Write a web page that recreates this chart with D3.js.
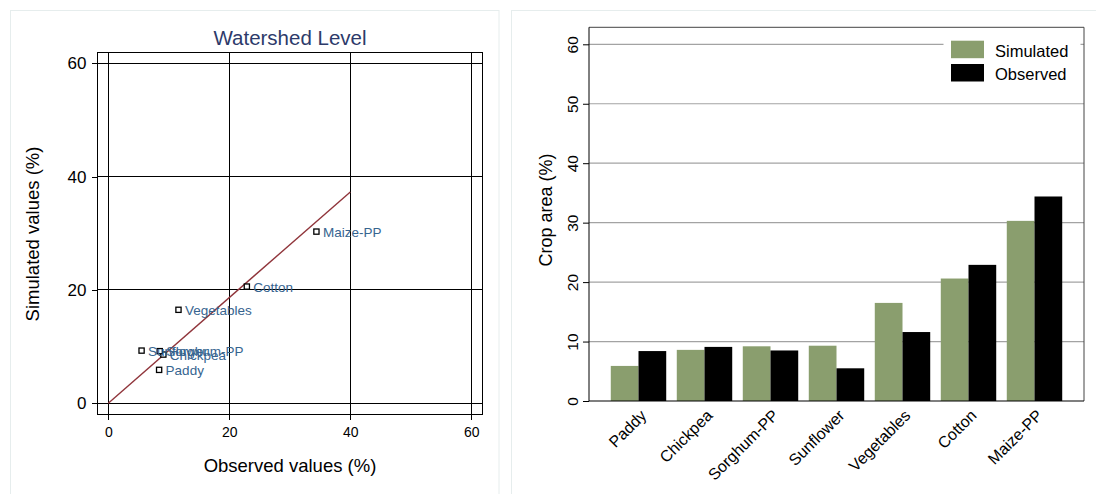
<!DOCTYPE html>
<html>
<head>
<meta charset="utf-8">
<script src="https://cdn.jsdelivr.net/npm/d3@7"></script>
<style>
  html, body { margin: 0; padding: 0; background: #ffffff; }
  svg { display: block; font-family: "Liberation Sans", Arial, Helvetica, sans-serif; }
</style>
</head>
<body>
<svg id="chart" width="1096" height="494"></svg>
<script>
// ---------------- data ----------------
const crops = ["Paddy", "Chickpea", "Sorghum-PP", "Sunflower", "Vegetables", "Cotton", "Maize-PP"];
const simulated = [5.9, 8.6, 9.2, 9.3, 16.5, 20.6, 30.3];
const observed  = [8.4, 9.1, 8.5, 5.5, 11.6, 22.9, 34.4];
const seriesNames = ["Simulated", "Observed"];
const axisTicks = [0, 20, 40, 60];
const barTicks = [0, 10, 20, 30, 40, 50, 60];
const fitLineX = [0, 40];
const fitLineY = [0, 37.3];

// ---------------- styles ----------------
const GREEN = "#8a9e6e";
const BLACK = "#000000";
const TITLE_COLOR = "#2d3a6a";
const LABEL_COLOR = "#36648f";
const LINE_COLOR = "#90353b";
const FRAME = "#e6eded";

const svg = d3.select("#chart");

// panel frames
svg.append("rect").attr("x", 10.5).attr("y", 10.5).attr("width", 488.5).attr("height", 500)
  .attr("fill", "#fff").attr("stroke", FRAME);
svg.append("rect").attr("x", 511.5).attr("y", 10.5).attr("width", 600).attr("height", 500)
  .attr("fill", "#fff").attr("stroke", FRAME);

// ================= LEFT: scatter =================
const L = svg.append("g");
const xL = d3.scaleLinear().domain([0, 60]).range([108.3, 471.3]);
const yL = d3.scaleLinear().domain([0, 60]).range([403.3, 63.3]);
const boxL = { x0: xL(-1.8), x1: xL(61.8), y0: yL(61.9), y1: yL(-1.95) };

// gridlines (black)
L.append("g").selectAll("line.gx").data(axisTicks).join("line")
  .attr("x1", d => xL(d)).attr("x2", d => xL(d))
  .attr("y1", boxL.y0).attr("y2", boxL.y1)
  .attr("stroke", "#000").attr("stroke-width", 1).attr("shape-rendering", "crispEdges");
L.append("g").selectAll("line.gy").data(axisTicks).join("line")
  .attr("y1", d => yL(d)).attr("y2", d => yL(d))
  .attr("x1", boxL.x0).attr("x2", boxL.x1)
  .attr("stroke", "#000").attr("stroke-width", 1).attr("shape-rendering", "crispEdges");

// box
L.append("rect").attr("x", boxL.x0).attr("y", boxL.y0)
  .attr("width", boxL.x1 - boxL.x0).attr("height", boxL.y1 - boxL.y0)
  .attr("fill", "none").attr("stroke", "#000").attr("stroke-width", 1).attr("shape-rendering", "crispEdges");

// axes
const axL = L.append("g").attr("transform", `translate(${boxL.x0},0)`)
  .call(d3.axisLeft(yL).tickValues(axisTicks).tickSize(5).tickPadding(6).tickFormat(d3.format("d")));
axL.select(".domain").remove();
axL.selectAll("line").attr("stroke", "#000").attr("shape-rendering", "crispEdges");
axL.selectAll("text").attr("font-size", 17).attr("fill", "#000").attr("font-family", null);

const axB = L.append("g").attr("transform", `translate(0,${boxL.y1})`)
  .call(d3.axisBottom(xL).tickValues(axisTicks).tickSize(6).tickPadding(7).tickFormat(d3.format("d")));
axB.select(".domain").remove();
axB.selectAll("line").attr("stroke", "#000").attr("shape-rendering", "crispEdges");
axB.selectAll("text").attr("font-size", 14).attr("fill", "#000").attr("font-family", null);

// fit line
L.append("path")
  .datum(fitLineX.map((x, i) => [x, fitLineY[i]]))
  .attr("d", d3.line().x(d => xL(d[0])).y(d => yL(d[1])))
  .attr("fill", "none").attr("stroke", LINE_COLOR).attr("stroke-width", 1.4);

// points
const pts = crops.map((c, i) => ({ name: c, x: observed[i], y: simulated[i] }));
L.append("g").selectAll("rect").data(pts).join("rect")
  .attr("x", d => xL(d.x) - 2.6).attr("y", d => yL(d.y) - 2.6)
  .attr("width", 5.2).attr("height", 5.2)
  .attr("fill", "#fff").attr("stroke", "#000").attr("stroke-width", 1.3);
L.append("g").selectAll("text").data(pts).join("text")
  .attr("x", d => xL(d.x) + 6.5).attr("y", d => yL(d.y) + 5)
  .attr("font-size", 13.5).attr("fill", LABEL_COLOR)
  .text(d => d.name);

// titles
L.append("text").attr("x", 290).attr("y", 45).attr("text-anchor", "middle")
  .attr("font-size", 20.5).attr("fill", TITLE_COLOR).text("Watershed Level");
L.append("text").attr("x", 290).attr("y", 472).attr("text-anchor", "middle")
  .attr("font-size", 18.5).attr("fill", "#000").text("Observed values (%)");
L.append("text").attr("transform", "translate(38.5,234) rotate(-90)").attr("text-anchor", "middle")
  .attr("font-size", 18.5).attr("fill", "#000").text("Simulated values (%)");

// ================= RIGHT: bars =================
const R = svg.append("g");
const boxR = { x0: 589, x1: 1084, y0: 27.3, y1: 401 };
const xR = d3.scaleBand().domain(crops).range([boxR.x0, boxR.x1]).paddingInner(0.16).paddingOuter(0.33);
const xSub = d3.scaleBand().domain(seriesNames).range([0, xR.bandwidth()]).padding(0);
const yR = d3.scaleLinear().domain([0, 60]).range([401, 44.3]);

// gridlines
R.append("g").selectAll("line").data(barTicks.filter(d => d > 0)).join("line")
  .attr("x1", boxR.x0).attr("x2", boxR.x1)
  .attr("y1", d => yR(d)).attr("y2", d => yR(d))
  .attr("stroke", "#a3a3a3").attr("stroke-width", 1.2);

// box top/right
R.append("path")
  .attr("d", `M${boxR.x0},${boxR.y0}H${boxR.x1}V${boxR.y1}`)
  .attr("fill", "none").attr("stroke", "#444").attr("stroke-width", 1);

// bars
const barData = [];
crops.forEach((c, i) => {
  barData.push({ crop: c, s: "Simulated", v: simulated[i] });
  barData.push({ crop: c, s: "Observed", v: observed[i] });
});
R.append("g").selectAll("rect").data(barData).join("rect")
  .attr("x", d => xR(d.crop) + xSub(d.s))
  .attr("width", xSub.bandwidth())
  .attr("y", d => yR(d.v))
  .attr("height", d => yR(0) - yR(d.v))
  .attr("fill", d => d.s === "Simulated" ? GREEN : BLACK);

// y axis
const ayR = R.append("g").attr("transform", `translate(${boxR.x0},0)`)
  .call(d3.axisLeft(yR).tickValues(barTicks).tickSize(6).tickFormat(d3.format("d")));
ayR.select(".domain").attr("stroke", "#000").attr("d", `M0,${boxR.y0}V${boxR.y1}`);
ayR.selectAll("line").attr("stroke", "#000");
ayR.selectAll("text")
  .attr("x", null).attr("dy", null)
  .attr("transform", "translate(-11.5,0) rotate(-90)")
  .attr("text-anchor", "middle")
  .attr("font-size", 15.5).attr("fill", "#000").attr("font-family", null);

// x axis baseline
R.append("line").attr("x1", boxR.x0).attr("x2", boxR.x1).attr("y1", yR(0)).attr("y2", yR(0))
  .attr("stroke", "#000").attr("stroke-width", 1.2);

// x labels
R.append("g").selectAll("text").data(crops).join("text")
  .attr("transform", d => `translate(${xR(d) + xR.bandwidth() / 2 + 9},${yR(0) + 15.5}) rotate(-45)`)
  .attr("text-anchor", "end")
  .attr("font-size", 16).attr("fill", "#000")
  .text(d => d);

// y title
R.append("text").attr("transform", "translate(552,210) rotate(-90)").attr("text-anchor", "middle")
  .attr("font-size", 18).attr("fill", "#000").text("Crop area (%)");

// legend
const lg = R.append("g");
lg.append("rect").attr("x", 943.5).attr("y", 33).attr("width", 137).attr("height", 56).attr("fill", "#fff");
seriesNames.forEach((s, i) => {
  lg.append("rect").attr("x", 951).attr("y", 40.7 + i * 23.3).attr("width", 33).attr("height", 17.5)
    .attr("fill", s === "Simulated" ? GREEN : BLACK);
  lg.append("text").attr("x", 995).attr("y", 57 + i * 23.3)
    .attr("font-size", 16.5).attr("fill", "#000").text(s);
});
</script>
</body>
</html>
